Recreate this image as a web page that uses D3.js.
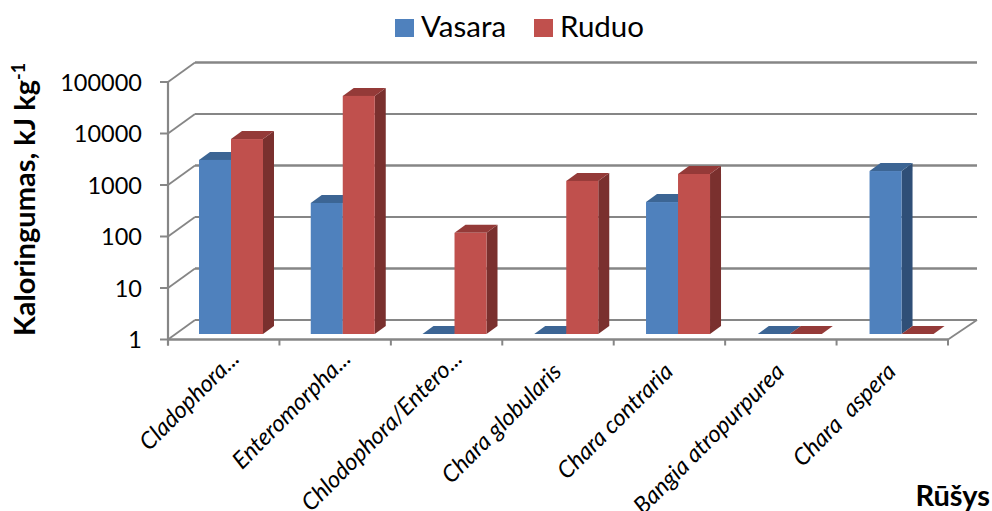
<!DOCTYPE html>
<html><head><meta charset="utf-8">
<script src="https://cdnjs.cloudflare.com/ajax/libs/d3/7.8.5/d3.min.js"></script>
<style>html,body{margin:0;padding:0;background:#fff}svg{display:block}text{font-family:Lato,"Open Sans",sans-serif;fill:#000}</style>
</head><body><svg id="c" width="992" height="511"></svg>
<script>
const categories=["Cladophora...","Enteromorpha...","Chlodophora/Entero...","Chara globularis","Chara contraria","Bangia atropurpurea","Chara  aspera"];
const seriesNames=["Vasara","Ruduo"];
const vasara=[2400,350,1,1,365,1,1460];
const ruduo=[6100,42000,92,940,1280,1,1];
const yTicks=[1,10,100,1000,10000,100000];
const faceColors=["#4F81BD","#C0504D"], topColors=["#3C6594","#943A38"], sideColors=["#2F4F77","#7A302E"];
const gridColor="#868686";
const svg=d3.select("#c");
const x=d3.scaleBand().domain(categories).range([168,948]);
const xBars=d3.scaleBand().domain(categories).range([168,950.3]);
const y=d3.scaleLog().domain([1,100000]).range([339.5,82]);
const wallDx=27,wallDy=-19.5;
const barInsetY=-5.5,barDx=11,barDy=-8;
const barW=32,barOff=31;
const g=svg.append("g").attr("fill","none").attr("stroke",gridColor);
yTicks.forEach((t,i)=>{
  const yy=y(t);
  g.append("line").attr("x1",168+wallDx).attr("x2",948+wallDx+2).attr("y1",yy+wallDy).attr("y2",yy+wallDy).attr("stroke-width",i%2==0?2:2.7);
  g.append("line").attr("x1",168).attr("x2",168+wallDx).attr("y1",yy).attr("y2",yy+wallDy).attr("stroke-width",1.8);
  g.append("line").attr("x1",160).attr("x2",168).attr("y1",yy).attr("y2",yy).attr("stroke-width",2);
  svg.append("text").attr("x",142).attr("y",yy+8.5).attr("text-anchor","end").attr("font-size",23.5).text(t);
});
g.append("line").attr("x1",168).attr("x2",168).attr("y1",y(100000)).attr("y2",y(1)+6).attr("stroke-width",2.2);
g.append("line").attr("x1",168).attr("x2",948).attr("y1",y(1)).attr("y2",y(1)).attr("stroke-width",2.4);
g.append("line").attr("x1",948).attr("x2",948+wallDx+2).attr("y1",y(1)).attr("y2",y(1)+wallDy).attr("stroke-width",1.8);
categories.concat(["_end"]).forEach((c,i)=>{
  const xx=168+i*x.bandwidth();
  g.append("line").attr("x1",xx).attr("x2",xx).attr("y1",y(1)).attr("y2",y(1)+6).attr("stroke-width",2);
});
const poly=(pts,f)=>svg.append("polygon").attr("points",pts.map(p=>p.join(",")).join(" ")).attr("fill",f);
categories.forEach((c,i)=>{
  [vasara,ruduo].forEach((s,k)=>{
    const x0=xBars(c)+barOff+k*barW,x1=x0+barW;
    const yb=y(1)+barInsetY,yt=y(s[i])+barInsetY;
    if(s[i]>1) poly([[x1,yt],[x1+barDx,yt+barDy],[x1+barDx,yb+barDy],[x1,yb]],sideColors[k]);
    poly([[x0,yt],[x0+barDx,yt+barDy],[x1+barDx,yt+barDy],[x1,yt]],topColors[k]);
    if(s[i]>1) svg.append("rect").attr("x",x0).attr("y",yt).attr("width",barW).attr("height",yb-yt).attr("fill",faceColors[k]);
  });
});
categories.forEach(c=>{
  const cut=c.endsWith("...");
  const xx=x(c)+x.bandwidth()/2+(cut?17:5), yy=cut?360:373;
  svg.append("text").attr("transform",`translate(${xx},${yy}) rotate(-45)`).attr("text-anchor","end")
    .attr("font-size",23.5).attr("font-style","italic").style("white-space","pre").text(c);
});
[[395,"Vasara"],[534,"Ruduo"]].forEach((l,i)=>{
  svg.append("rect").attr("x",l[0]).attr("y",19).attr("width",19).attr("height",18).attr("fill",faceColors[i]);
  svg.append("text").attr("x",l[0]+26).attr("y",37).attr("font-size",29.5).text(seriesNames[i]);
});
const yt=svg.append("text").attr("transform","translate(35,336) rotate(-90)").attr("font-size",29).attr("font-weight",700);
yt.append("tspan").text("Kaloringumas, kJ kg");
yt.append("tspan").attr("dy",-10).attr("font-size",18).text("-1");
svg.append("text").attr("x",990).attr("y",506).attr("text-anchor","end").attr("font-size",29).attr("font-weight",700).text("Rūšys");
</script></body></html>
